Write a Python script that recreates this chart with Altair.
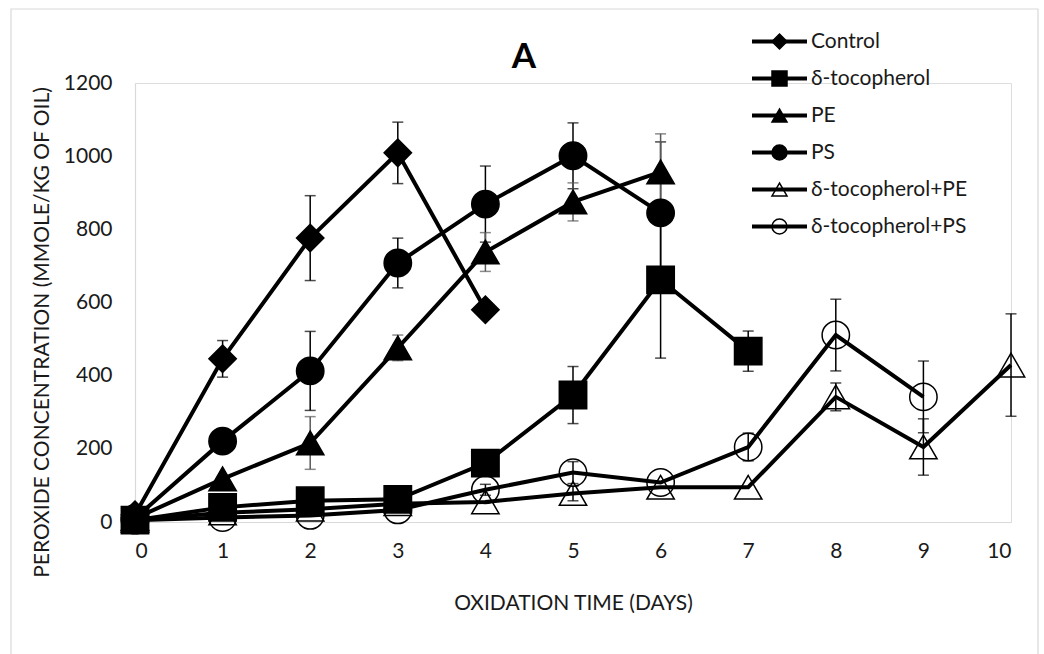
import altair as alt
import pandas as pd

# ---------------- data ----------------
days = list(range(11))
series_names = ["Control", "δ-tocopherol", "PE", "PS", "δ-tocopherol+PE", "δ-tocopherol+PS"]

control = [20, 446, 776, 1009, 580]
control_err = [0, 50, 116, 84, 12]

dtoc = [5, 40, 58, 62, 161, 347, 662, 467]
dtoc_err = [0, 0, 0, 0, 0, 78, 214, 55]

pe = [10, 118, 216, 476, 738, 875, 957]
pe_err = [0, 0, 72, 35, 53, 52, 104]

ps = [10, 221, 413, 708, 869, 1001, 845]
ps_err = [0, 0, 108, 68, 104, 90, 194]

dtoc_pe = [5, 25, 35, 50, 55, 78, 95, 95, 342, 205, 429]
dtoc_pe_err = [0, 0, 0, 0, 0, 20, 0, 0, 38, 77, 140]

dtoc_ps = [5, 12, 18, 33, 88, 135, 108, 205, 511, 342]
dtoc_ps_err = [0, 0, 0, 0, 15, 30, 0, 38, 98, 98]

y_ticks = [0, 200, 400, 600, 800, 1000, 1200]

shapes = ["diamond", "square", "triangle-up", "circle", "triangle-up", "circle"]
fills = ["black", "black", "black", "black", "transparent", "transparent"]
strokes = ["black"] * 6
err_colors = ["black", "black", "#595959", "black", "black", "black"]

all_values = [control, dtoc, pe, ps, dtoc_pe, dtoc_ps]
all_errors = [control_err, dtoc_err, pe_err, ps_err, dtoc_pe_err, dtoc_ps_err]

rows = []
for name, vals, errs, ec in zip(series_names, all_values, all_errors, err_colors):
    for d, (v, e) in zip(days, zip(vals, errs)):
        rows.append({"day": d, "value": v, "err": e, "lo": v - e, "hi": v + e,
                     "series": name, "series_line": name, "ecolor": ec})
df = pd.DataFrame(rows)
edf = df[df["err"] > 0]

FONT = "Lato, Noto Sans, sans-serif"
TXT = "#1a1a1a"
X_TITLE = "OXIDATION TIME (DAYS)"
Y_TITLE = "PEROXIDE CONCENTRATION (MMOLE/KG OF OIL)"

xscale = alt.Scale(domain=[0, 10], nice=False, zero=False)
yscale = alt.Scale(domain=[0, 1200], nice=False)

x_axis = alt.Axis(values=days, title=X_TITLE, grid=False, ticks=False,
                  domainColor="#d9d9d9", domainWidth=1.2,
                  labelFont=FONT, labelFontSize=21, labelColor=TXT, labelPadding=18,
                  titleFont=FONT, titleFontSize=21, titleFontWeight="normal", titleColor=TXT,
                  titleY=81, titleBaseline="middle")
y_axis = alt.Axis(values=y_ticks, format="d", title=Y_TITLE, grid=False, ticks=False,
                  domainColor="#d9d9d9", domainWidth=1.2,
                  labelFont=FONT, labelFontSize=21, labelColor=TXT, labelPadding=23,
                  titleFont=FONT, titleFontSize=21, titleFontWeight="normal", titleColor=TXT,
                  titleAngle=270, titleX=-93, titleY=249, titleAlign="center",
                  titleBaseline="middle")

X = alt.X("day:Q", scale=xscale, axis=x_axis)

# legend with the line segments and the labels
legend_line = alt.Legend(orient="none", legendX=634, legendY=-52, title=None,
                         symbolType="M-3.5,0L3.5,0", symbolSize=247, symbolStrokeWidth=4,
                         symbolFillColor="transparent",
                         labelFont=FONT, labelFontSize=21, labelColor=TXT,
                         labelOffset=21, rowPadding=15, padding=0)
# legend with the markers, drawn over the line segments
legend_shape = alt.Legend(orient="none", legendX=634, legendY=-52, title=None,
                          symbolSize=225, symbolStrokeWidth=1.5,
                          symbolOpacity=1,
                          labelFont=FONT, labelFontSize=21, labelOpacity=0,
                          labelOffset=21, rowPadding=15, padding=0)

border = alt.Chart(pd.DataFrame({"k": [0]})).mark_rect(
    fillOpacity=0, stroke="#d9d9d9", strokeWidth=1.2
).encode(x=alt.value(-124), x2=alt.value(903), y=alt.value(-74), y2=alt.value(600))

err_layers = []
for c in ["black", "#595959"]:
    base = alt.Chart(edf).transform_filter(alt.datum.ecolor == c)
    err_layers.append(base.mark_rule(color=c, strokeWidth=1.5).encode(
        x=X, y=alt.Y("lo:Q", scale=yscale, axis=y_axis), y2="hi:Q"))
    err_layers.append(base.mark_tick(color=c, orient="horizontal", size=11, thickness=1.5).encode(
        x=X, y=alt.Y("lo:Q", scale=yscale, axis=y_axis)))
    err_layers.append(base.mark_tick(color=c, orient="horizontal", size=11, thickness=1.5).encode(
        x=X, y=alt.Y("hi:Q", scale=yscale, axis=y_axis)))

lines = alt.Chart(df).mark_line(strokeWidth=4).encode(
    x=X,
    y=alt.Y("value:Q", scale=yscale, axis=y_axis),
    color=alt.Color("series_line:N", sort=series_names,
                    scale=alt.Scale(range=["black"] * 6), legend=legend_line),
)

points = alt.Chart(df).mark_point(strokeWidth=1.5, opacity=1, size=750).encode(
    x=X,
    y=alt.Y("value:Q", scale=yscale, axis=y_axis),
    shape=alt.Shape("series:N", scale=alt.Scale(domain=series_names, range=shapes),
                    legend=legend_shape),
    fill=alt.Fill("series:N", scale=alt.Scale(domain=series_names, range=fills),
                  legend=legend_shape),
    stroke=alt.Stroke("series:N", scale=alt.Scale(domain=series_names, range=strokes),
                      legend=legend_shape),
)

chart = alt.layer(border, *err_layers, lines, points).properties(
    width=876, height=439,
    title=alt.TitleParams("A", font=FONT, fontSize=35, fontWeight="bold", color="black",
                          anchor="middle", frame="group", dx=-49, dy=75, offset=8),
    autosize=alt.AutoSizeParams(type="none"),
    padding={"left": 135, "top": 83, "right": 33, "bottom": 132},
).configure_view(stroke=None).configure(background="white")

chart.save("out.html", embed_options={"renderer": "svg", "actions": False})
